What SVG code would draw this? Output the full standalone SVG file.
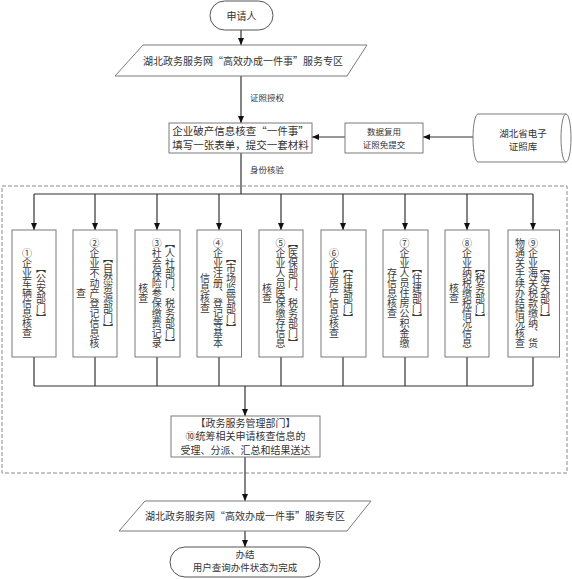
<svg xmlns="http://www.w3.org/2000/svg" width="572" height="579" viewBox="0 0 572 579">
<defs>
<marker id="arr" markerWidth="7" markerHeight="6" refX="7" refY="3" orient="auto" markerUnits="userSpaceOnUse">
<path d="M0,0 L7,3 L0,6 z" fill="#111"/>
</marker>
<style>
.shape{fill:#fff;stroke:#7a7a7a;stroke-width:1}
.term{fill:#fff;stroke:#555;stroke-width:1}
.line{fill:none;stroke:#333;stroke-width:1.2}
.arrow{fill:none;stroke:#333;stroke-width:1.2;marker-end:url(#arr)}
.dash{fill:none;stroke:#8a8a8a;stroke-width:1;stroke-dasharray:4,2}
text{font-family:"Noto Sans CJK SC","Noto Sans",sans-serif;fill:#333}
.t10{font-size:10px;text-anchor:middle}
.t9{font-size:9.5px;text-anchor:middle}
.t105{font-size:10.5px;text-anchor:middle}
.t8{font-size:8.5px;text-anchor:middle}
.v{font-size:10px;text-anchor:middle;writing-mode:vertical-rl;fill:#3a3a3a}
</style>
</defs>
<rect class="dash" x="2" y="186" width="565" height="287"/>
<g id="connectors">
<line class="arrow" x1="241" y1="30" x2="241" y2="45"/>
<line class="arrow" x1="241" y1="76" x2="241" y2="123"/>
<line class="arrow" x1="345" y1="137" x2="312" y2="137"/>
<line class="arrow" x1="473" y1="137" x2="423" y2="137"/>
<line class="line" x1="241" y1="153" x2="241" y2="194"/>
<line class="line" x1="34" y1="194" x2="533" y2="194"/>
<line class="arrow" x1="34" y1="194" x2="34" y2="230"/>
<line class="arrow" x1="95" y1="194" x2="95" y2="230"/>
<line class="arrow" x1="157" y1="194" x2="157" y2="230"/>
<line class="arrow" x1="219" y1="194" x2="219" y2="230"/>
<line class="arrow" x1="281" y1="194" x2="281" y2="230"/>
<line class="arrow" x1="343" y1="194" x2="343" y2="230"/>
<line class="arrow" x1="405" y1="194" x2="405" y2="230"/>
<line class="arrow" x1="467" y1="194" x2="467" y2="230"/>
<line class="arrow" x1="533" y1="194" x2="533" y2="230"/>
<line class="line" x1="34" y1="357" x2="34" y2="386"/>
<line class="line" x1="95" y1="357" x2="95" y2="386"/>
<line class="line" x1="157" y1="357" x2="157" y2="386"/>
<line class="line" x1="219" y1="357" x2="219" y2="386"/>
<line class="line" x1="281" y1="357" x2="281" y2="386"/>
<line class="line" x1="343" y1="357" x2="343" y2="386"/>
<line class="line" x1="405" y1="357" x2="405" y2="386"/>
<line class="line" x1="467" y1="357" x2="467" y2="386"/>
<line class="line" x1="533" y1="357" x2="533" y2="386"/>
<line class="line" x1="34" y1="386" x2="533" y2="386"/>
<line class="arrow" x1="245" y1="386" x2="245" y2="416"/>
<line class="arrow" x1="245" y1="457" x2="245" y2="501"/>
<line class="arrow" x1="245" y1="531" x2="245" y2="547"/>
<text class="t8" x="267" y="101">证照授权</text>
<text class="t8" x="267" y="173">身份核验</text>
</g>
<g id="start">
<rect class="term" x="210" y="1" width="63" height="29" rx="14.5"/>
<text class="t10" x="241.5" y="19.5">申请人</text>
</g>
<g id="portal1">
<polygon class="shape" points="143,45 367,45 347,76 115,76"/>
<text class="t10" x="243" y="64.5">湖北政务服务网“高效办成一件事”服务专区</text>
</g>
<g id="form">
<rect class="shape" x="169" y="123" width="143" height="30"/>
<text class="t105" x="240.5" y="135">企业破产信息核查“一件事”</text>
<text class="t105" x="240.5" y="148.5">填写一张表单，提交一套材料</text>
</g>
<g id="reuse">
<rect class="shape" x="345" y="123" width="78" height="30"/>
<text class="t8" x="384" y="135">数据复用</text>
<text class="t8" x="384" y="148">证照免提交</text>
</g>
<g id="library">
<path class="shape" d="M478,114 L566,114 A5,24 0 0 1 566,162 L478,162 A5,24 0 0 1 478,114 z"/>
<path class="shape" d="M566,114 A5,24 0 0 0 566,162" fill="none"/>
<text class="t9" x="523" y="136.5">湖北省电子</text>
<text class="t9" x="523" y="149.5">证照库</text>
</g>
<g id="n1">
<rect class="shape" x="12" y="230" width="44" height="127"/>
<text class="v" x="41" y="293.5">【公安部门】</text>
<text class="v" x="27" y="293.5">①企业车辆信息核查</text>
</g>
<g id="n2">
<rect class="shape" x="73" y="230" width="44" height="127"/>
<text class="v" x="108" y="293.5">【自然资源部门】</text>
<text class="v" x="94.5" y="293.5">②企业不动产登记信息核</text>
<text class="v" x="81" y="293.5">查</text>
</g>
<g id="n3">
<rect class="shape" x="135" y="230" width="45" height="127"/>
<text class="v" x="170" y="293.5">【人社部门、税务部门】</text>
<text class="v" x="156.7" y="293.5">③社会保险参保缴费记录</text>
<text class="v" x="143.3" y="293.5">核查</text>
</g>
<g id="n4">
<rect class="shape" x="197" y="230" width="44.5" height="127"/>
<text class="v" x="231" y="293.5">【市场监管部门】</text>
<text class="v" x="218" y="293.5">④企业注册、登记等基本</text>
<text class="v" x="205" y="293.5">信息核查</text>
</g>
<g id="n5">
<rect class="shape" x="259" y="230" width="44" height="127"/>
<text class="v" x="293" y="293.5">【医保部门、税务部门】</text>
<text class="v" x="280.5" y="293.5">⑤企业人员医保缴存信息</text>
<text class="v" x="267" y="293.5">核查</text>
</g>
<g id="n6">
<rect class="shape" x="321" y="230" width="45" height="127"/>
<text class="v" x="348" y="293.5">【住建部门】</text>
<text class="v" x="334" y="293.5">⑥企业房产信息核查</text>
</g>
<g id="n7">
<rect class="shape" x="383" y="230" width="45" height="127"/>
<text class="v" x="417" y="293.5">【住建部门】</text>
<text class="v" x="404.5" y="293.5">⑦企业人员住房公积金缴</text>
<text class="v" x="392" y="293.5">存信息核查</text>
</g>
<g id="n8">
<rect class="shape" x="445" y="230" width="44" height="127"/>
<text class="v" x="480" y="293.5">【税务部门】</text>
<text class="v" x="467" y="293.5">⑧企业纳税缴税情况信息</text>
<text class="v" x="454" y="293.5">核查</text>
</g>
<g id="n9">
<rect class="shape" x="508" y="230" width="51.5" height="127"/>
<text class="v" x="545" y="293.5">【海关部门】</text>
<text class="v" x="533" y="293.5">⑨企业海关税款缴纳、货</text>
<text class="v" x="520" y="293.5">物通关手续办结情况核查</text>
</g>
<g id="n10">
<rect class="shape" x="171" y="416" width="149" height="41"/>
<text class="t10" x="245.5" y="426.5">【政务服务管理部门】</text>
<text class="t10" x="245.5" y="440">⑩统筹相关申请核查信息的</text>
<text class="t10" x="245.5" y="453.5">受理、分派、汇总和结果送达</text>
</g>
<g id="portal2">
<polygon class="shape" points="145,501 371,501 347,531 119,531"/>
<text class="t10" x="245" y="519.5">湖北政务服务网“高效办成一件事”服务专区</text>
</g>
<g id="end">
<rect class="term" x="170" y="547" width="150" height="30" rx="15"/>
<text class="t9" x="245" y="557.5">办结</text>
<text class="t9" x="245" y="571">用户查询办件状态为完成</text>
</g>
</svg>
